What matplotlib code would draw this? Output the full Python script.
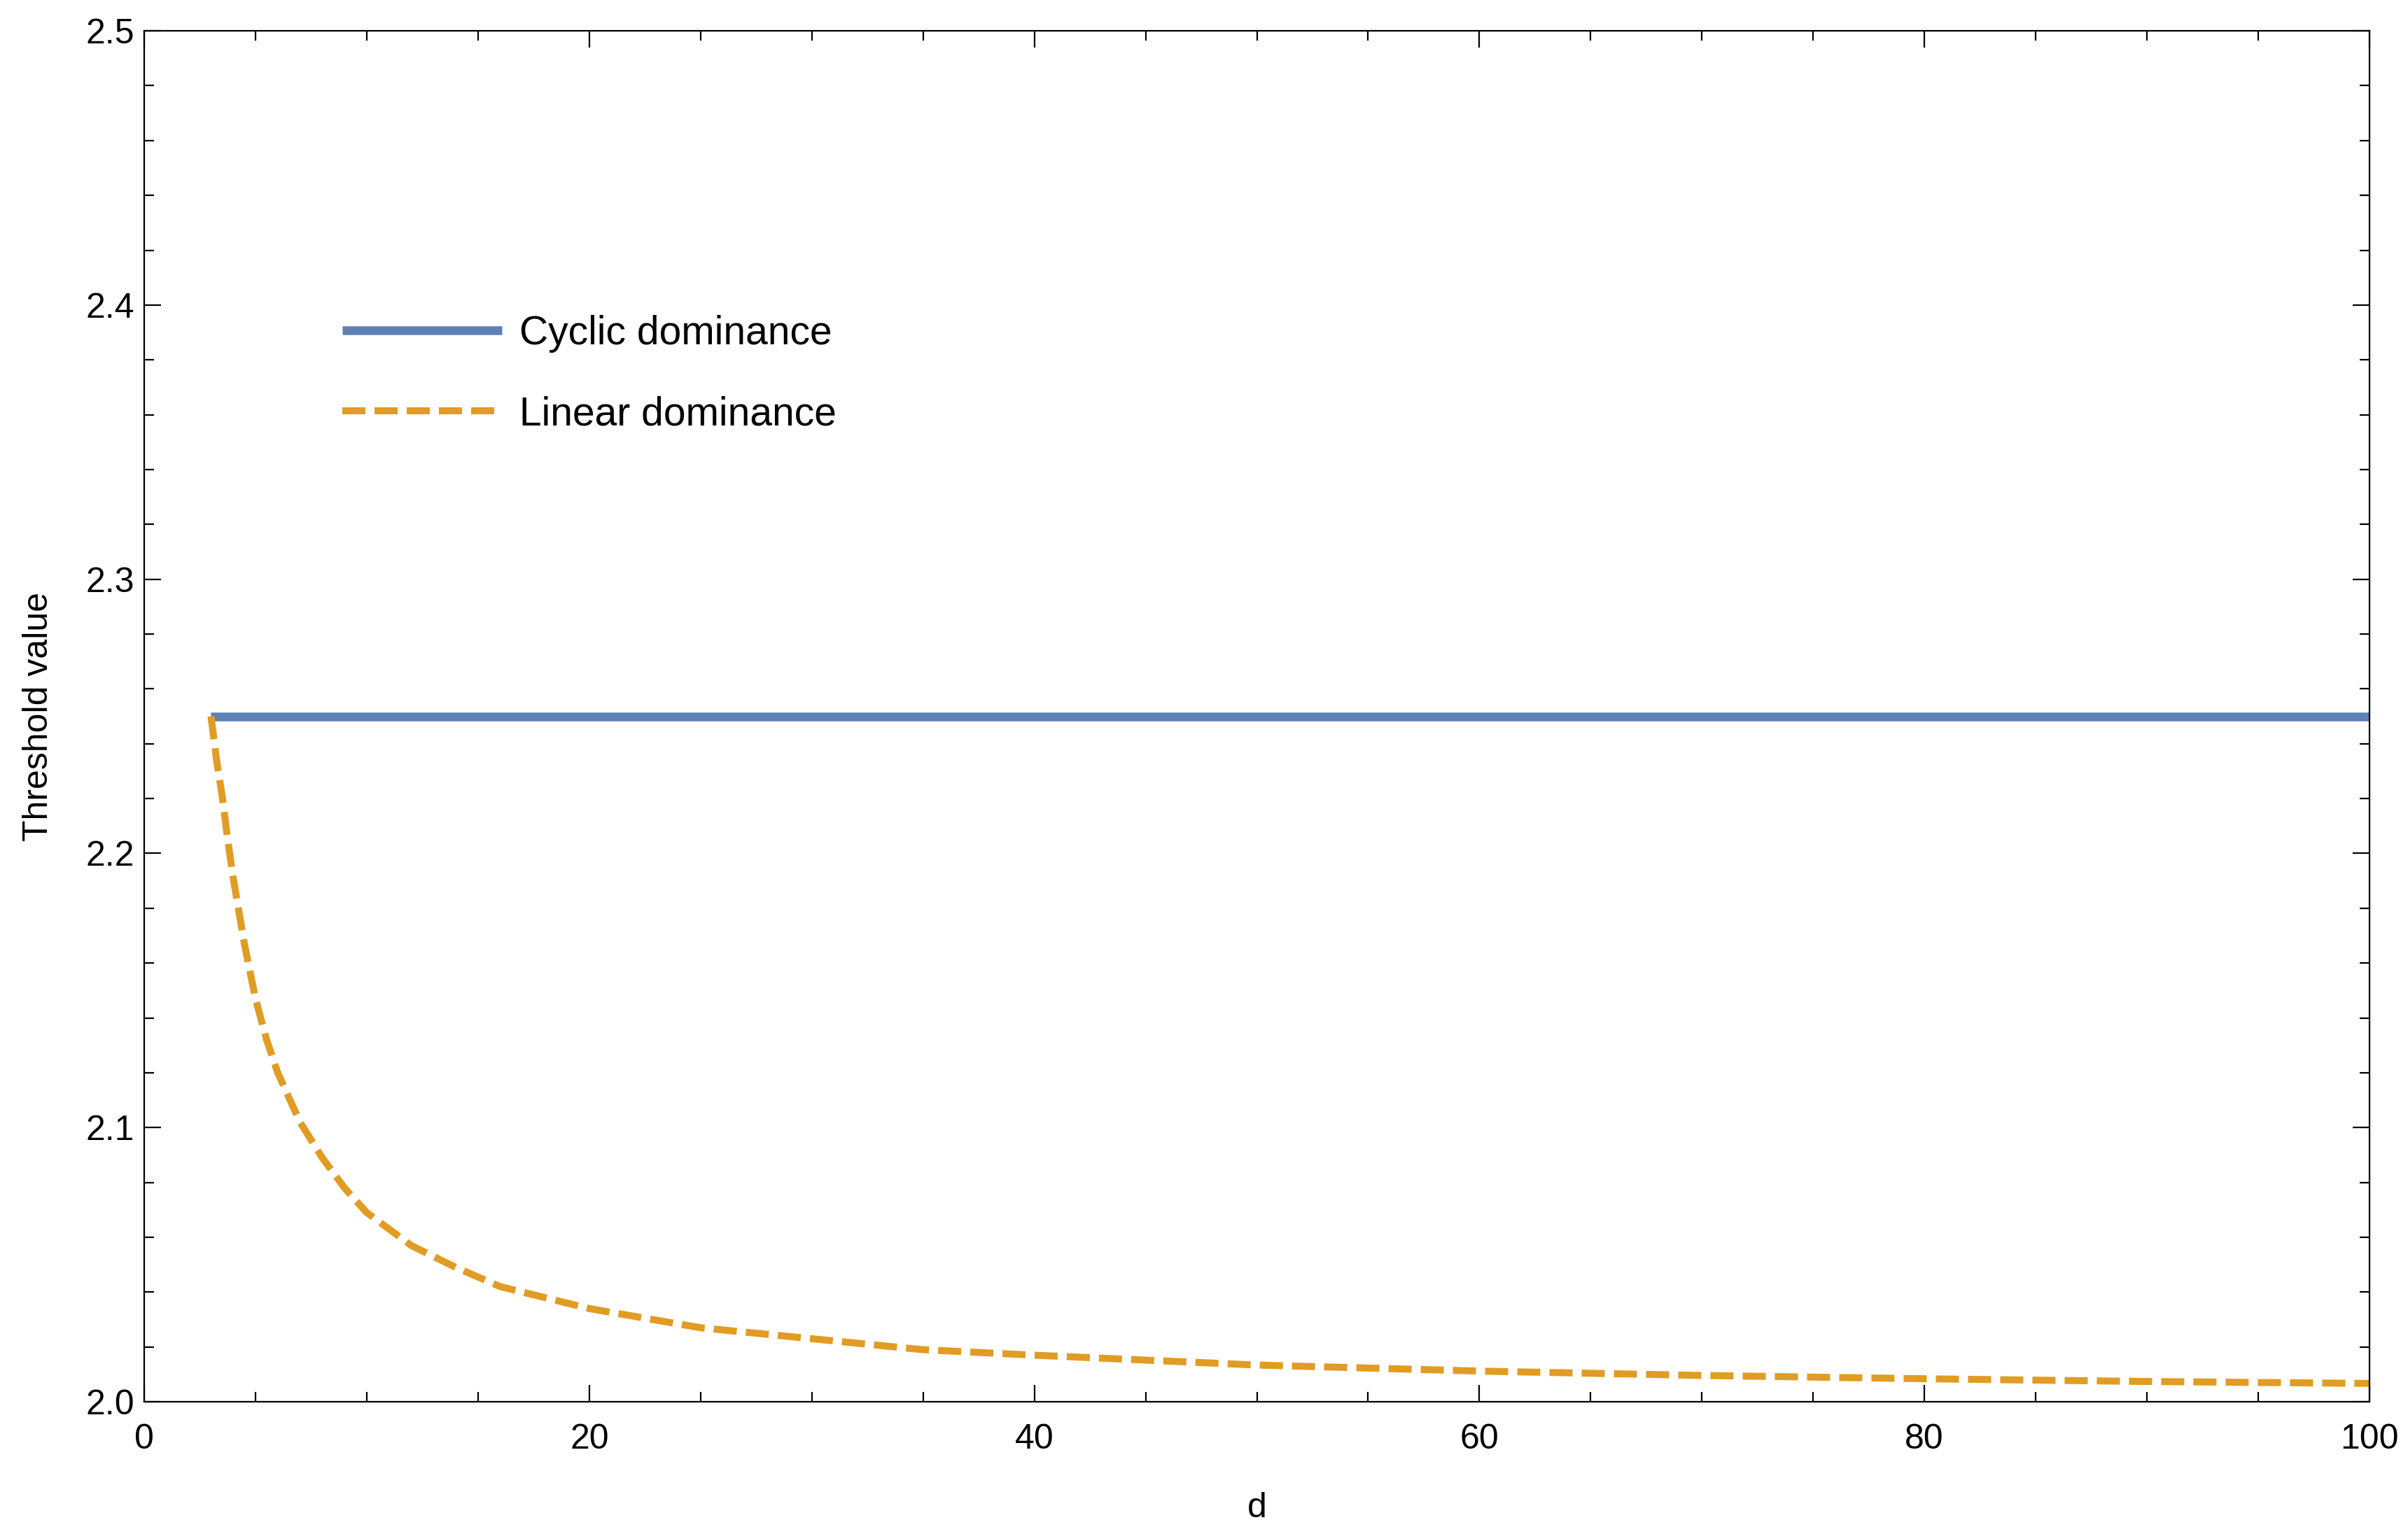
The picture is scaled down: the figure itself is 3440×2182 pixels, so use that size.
import numpy as np
import matplotlib
matplotlib.use("Agg")
import matplotlib.pyplot as plt
from matplotlib.ticker import MultipleLocator

plt.rcParams['font.family'] = ['Liberation Sans', 'DejaVu Sans']

# values
d_cyclic = [3, 100]
thr_cyclic = [2.25, 2.25]

d_linear = [3, 3.25, 3.5, 3.75, 4, 4.5, 5, 5.5, 6, 7, 8, 9, 10, 12, 14, 16,
            18, 20, 25, 30, 35, 40, 50, 60, 70, 80, 90, 100]
thr_linear = [2.250, 2.234, 2.221, 2.205, 2.191, 2.167, 2.147, 2.132, 2.120,
              2.102, 2.089, 2.078, 2.069, 2.057, 2.049, 2.042, 2.038, 2.034,
              2.027, 2.023, 2.019, 2.017, 2.0134, 2.0112, 2.0096, 2.0084,
              2.0074, 2.0067]

blue = '#5E81B5'
orange = '#E19C24'

fig = plt.figure(figsize=(17.2, 10.91), dpi=200)
ax = fig.add_axes([0.0599, 0.0820, 0.9241, 0.8978])

ax.plot(d_cyclic, thr_cyclic, color=blue, lw=4.5, solid_capstyle='butt',
        label='Cyclic dominance')
ax.plot(d_linear, thr_linear, color=orange, lw=3.6, dash_capstyle='butt',
        linestyle=(0, (3.3, 1.3)), label='Linear dominance')

ax.set_xlim(0, 100)
ax.set_ylim(2.0, 2.5)
ax.xaxis.set_major_locator(MultipleLocator(20))
ax.xaxis.set_minor_locator(MultipleLocator(5))
ax.yaxis.set_major_locator(MultipleLocator(0.1))
ax.yaxis.set_minor_locator(MultipleLocator(0.02))
ax.xaxis.set_major_formatter(plt.FuncFormatter(lambda v, p: '%d' % v))
ax.yaxis.set_major_formatter(plt.FuncFormatter(lambda v, p: '%.1f' % v))

ax.tick_params(which='both', direction='in', width=0.8, labelsize=18,
               top=True, right=True)
ax.tick_params(which='major', length=8.5)
ax.tick_params(which='minor', length=5.2)
ax.tick_params(axis='x', which='both', pad=11)
ax.tick_params(axis='y', which='both', pad=5)
for s in ax.spines.values():
    s.set_linewidth(0.8)

ax.set_xlabel('d', fontsize=18, labelpad=19)
ax.set_ylabel('Threshold value', fontsize=18, labelpad=16)

ax.legend(loc='upper left', bbox_to_anchor=(0.073, 0.819), frameon=False,
          fontsize=20.5, handlelength=4.0, handletextpad=0.44, labelspacing=1.08)

fig.savefig('out.png', dpi=200)
